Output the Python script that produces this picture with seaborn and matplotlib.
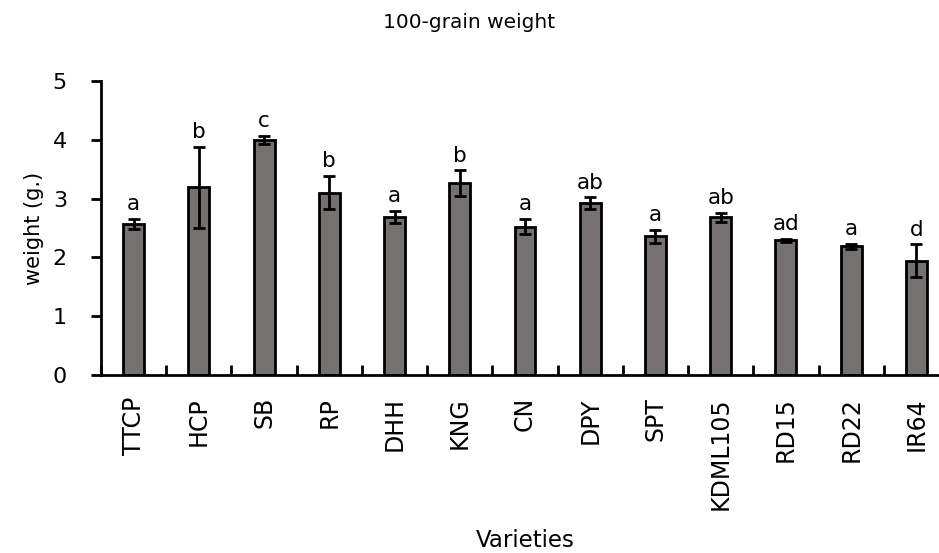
import matplotlib
matplotlib.use("Agg")
import matplotlib.pyplot as plt
import seaborn as sns
import pandas as pd
import numpy as np

varieties = ["TTCP", "HCP", "SB", "RP", "DHH", "KNG", "CN", "DPY", "SPT",
             "KDML105", "RD15", "RD22", "IR64"]
weights = [2.57, 3.19, 4.00, 3.10, 2.69, 3.26, 2.52, 2.92, 2.36, 2.68, 2.29, 2.19, 1.94]
errors = [0.09, 0.69, 0.07, 0.28, 0.10, 0.22, 0.13, 0.10, 0.11, 0.08, 0.03, 0.04, 0.28]
letters = ["a", "b", "c", "b", "a", "b", "a", "ab", "a", "ab", "ad", "a", "d"]

df = pd.DataFrame({"Varieties": varieties, "weight": weights})

sns.set_theme(style="white")
plt.rcParams["font.family"] = ["DejaVu Sans"]

fig = plt.figure(figsize=(9.39, 5.53), dpi=100)
ax = fig.add_axes([101 / 939, 1 - 375 / 553, 848 / 939, 294 / 553])

sns.barplot(data=df, x="Varieties", y="weight", order=varieties, color="#767171",
            edgecolor="black", linewidth=2.0, width=0.32, saturation=1,
            errorbar=None, ax=ax)

xs = np.arange(len(varieties))
ax.errorbar(xs, weights, yerr=errors, fmt="none", ecolor="black",
            elinewidth=2.0, capsize=4, capthick=2.0, zorder=5)

for x, w, e, l in zip(xs, weights, errors, letters):
    ax.annotate(l, (x, w + e), xytext=(0, 3.5), textcoords="offset points",
                ha="center", va="bottom", fontsize=15.5, color="black")

ax.set_xlim(-0.5, len(varieties) - 0.5)
ax.set_ylim(0, 5)
ax.set_yticks([0, 1, 2, 3, 4, 5])

for s in ["top", "right"]:
    ax.spines[s].set_visible(False)
for s in ["left", "bottom"]:
    ax.spines[s].set_color("black")
    ax.spines[s].set_linewidth(2.0)

ax.tick_params(axis="y", direction="out", length=7.5, width=2.0, colors="black",
               labelsize=16, pad=17, left=True)
ax.tick_params(axis="x", which="major", length=0, labelsize=17, pad=16,
               labelrotation=90, labelcolor="black")
ax.set_xticks(np.arange(-0.5, len(varieties), 1.0), minor=True)
ax.tick_params(axis="x", which="minor", direction="in", length=7, width=2.0,
               color="black", bottom=True)

ax.set_xlabel("Varieties", fontsize=16.5, labelpad=14, color="black")
ax.set_ylabel("weight (g.)", fontsize=15, labelpad=6, color="black")
fig.text(469 / 939, 1 - 22 / 553, "100-grain weight", ha="center", va="center",
         fontsize=14.5, color="black")

fig.savefig("out.png", dpi=100)
